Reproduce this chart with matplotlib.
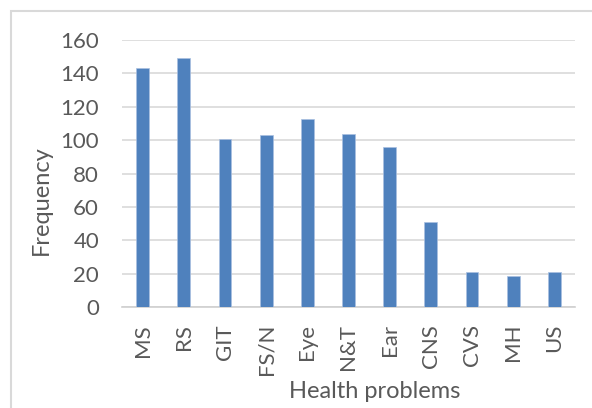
import numpy as np
import matplotlib.pyplot as plt
from matplotlib.patches import Rectangle

categories = ["MS", "RS", "GIT", "FS/N", "Eye", "N&T", "Ear", "CNS", "CVS", "MH", "US"]
frequency = [143, 149, 101, 103, 113, 104, 96, 51, 21, 19, 21]
yticks = [0, 20, 40, 60, 80, 100, 120, 140, 160]

text_color = "#595959"
grid_color = "#d9d9d9"
bar_color = "#4f81bd"

plt.rcParams["font.family"] = ["Lato", "DejaVu Sans"]

fig = plt.figure(figsize=(5.92, 4.08), dpi=100)
ax = fig.add_axes([122 / 592, 1 - 307.3 / 408, (575 - 122) / 592, (307.3 - 40) / 408])

x = np.arange(len(categories))
ax.bar(x, frequency, width=0.31, color=bar_color, edgecolor="#a9c0e0", linewidth=0.5, zorder=3)

ax.set_xlim(-0.5, len(categories) - 0.5)
ax.set_ylim(0, 160)
ax.set_yticks(yticks)
ax.set_xticks(x)
ax.set_xticklabels(categories, rotation=90)
ax.tick_params(axis="both", length=0, colors=text_color, labelsize=16)
ax.tick_params(axis="y", pad=16.5)
ax.tick_params(axis="x", pad=12)

ax.grid(axis="y", color=grid_color, linewidth=1.2, zorder=0)
for side in ["top", "right", "left"]:
    ax.spines[side].set_visible(False)
ax.spines["bottom"].set_color("#d0d0d0")
ax.spines["bottom"].set_linewidth(1.2)

# axis titles placed in figure coordinates
fig.text(41 / 592, 1 - 200 / 408, "Frequency", rotation=90, ha="center", va="center",
         color=text_color, fontsize=17)
fig.text(375 / 592, 1 - 391 / 408, "Health problems", ha="center", va="center",
         color=text_color, fontsize=17)

# chart area border, runs off the right and bottom edges
fig.patches.append(Rectangle((11 / 592, -0.05), 1.1, 1 - 11 / 408 + 0.05,
                             transform=fig.transFigure, fill=False,
                             edgecolor=grid_color, linewidth=1.5))

fig.savefig("out.png", dpi=100)
